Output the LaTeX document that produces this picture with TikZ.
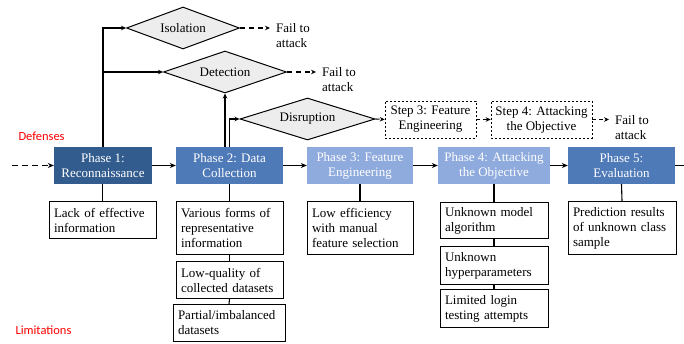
\documentclass[tikz,border=0pt]{standalone}
\usepackage{fontspec}
\setmainfont{Liberation Serif}
\newfontfamily\labelfont{Carlito}
\usetikzlibrary{arrows.meta,shapes.geometric,positioning}

\definecolor{phdark}{HTML}{335C8E}
\definecolor{phmid}{HTML}{4F7AB8}
\definecolor{phlight}{HTML}{8FAADC}
\definecolor{diafill}{HTML}{EDEDED}

\tikzset{
    phase/.style={minimum height=37pt, inner sep=0pt, text=white, align=center},
    limit/.style={draw, line width=1pt, anchor=north, align=left, inner xsep=5pt, inner ysep=3.5pt},
    defense/.style={diamond, draw, line width=1pt, fill=diafill, aspect=3, inner sep=1pt, minimum height=42pt},
    stepbox/.style={draw, line width=0.6pt, dash pattern=on 2pt off 2pt, align=center, minimum height=37pt, inner sep=0pt},
    failtext/.style={anchor=west, align=left, inner sep=0pt},
    flow/.style={-{Stealth[length=6pt,width=5pt]}, line width=1.6pt},
    branch/.style={-{Stealth[length=5pt,width=4.5pt]}, line width=1.1pt},
    failarrow/.style={-{Stealth[length=5pt,width=4.5pt]}, line width=1.1pt, dash pattern=on 5pt off 4pt, shorten >=6pt},
    steparrow/.style={-{Stealth[length=5pt,width=4.5pt]}, line width=1.1pt, dash pattern=on 4pt off 3pt}
}

\begin{document}
\begin{tikzpicture}[x=1pt, y=-1pt, font=\fontsize{13}{15}\selectfont]
        \useasboundingbox (0,0) rectangle (684,344);

        % Phases along the attack chain
        \node[phase, fill=phdark, minimum width=98pt] (ph1) at (103,165.5) {Phase 1:\\Reconnaissance};
        \node[phase, fill=phmid, minimum width=107pt] (ph2) at (229.5,165.5) {Phase 2: Data\\Collection};
        \node[phase, fill=phlight, minimum width=106pt] (ph3) at (360,165.5) {Phase 3: Feature\\Engineering};
        \node[phase, fill=phlight, minimum width=112pt] (ph4) at (494,165.5) {Phase 4: Attacking\\the Objective};
        \node[phase, fill=phmid, minimum width=107pt] (ph5) at (621.5,165.5) {Phase 5:\\Evaluation};
        \coordinate (start) at (12,165.5);
        \coordinate (finish) at (684,165.5);

        \draw[flow, dash pattern=on 6pt off 4pt] (start) -- (ph1);
        \draw[flow] (ph1) -- (ph2);
        \draw[flow] (ph2) -- (ph3);
        \draw[flow] (ph3) -- (ph4);
        \draw[flow] (ph4) -- (ph5);
        \draw[line width=1.6pt] (ph5) -- (finish);

        % Defenses
        \node[defense, minimum width=113pt] (iso) at (183,28) {Isolation};
        \node[defense, minimum width=123pt] (det) at (225,72) {Detection};
        \node[defense, minimum width=135pt] (dis) at (307.5,119) {Disruption};
        \node[failtext] (fail1) at (276,36) {Fail to\\attack};
        \node[failtext] (fail2) at (322,80) {Fail to\\attack};
        \node[failtext] (fail3) at (615,127.5) {Fail to\\attack};
        \node[stepbox, minimum width=91pt] (step3) at (430.5,119.5) {Step 3: Feature\\Engineering};
        \node[stepbox, minimum width=101pt] (step4) at (541.5,119.5) {Step 4: Attacking\\the Objective};
        \node[anchor=west, text=red, font=\labelfont\fontsize{12.5}{14}\selectfont] (deflabel) at (15,136) {Defenses};

        \draw[branch] (ph1.north) |- (iso.west);
        \draw[branch] (ph1.north |- det.west) -- (det.west);
        \draw[branch] (det.south |- ph2.north) -- (det.south);
        \draw[branch] (ph2.north) |- (dis.west);
        \draw[failarrow] (iso.east) -- (iso.east -| fail1.west);
        \draw[failarrow] (det.east) -- (det.east -| fail2.west);
        \draw[steparrow] (dis.east) -- (step3.west);
        \draw[steparrow] (step3.east) -- (step4.west);
        \draw[failarrow, dash pattern=on 4pt off 3pt] (step4.east) -- (step4.east -| fail3.west);

        % Limitations
        \node[limit, text width=97pt, minimum height=37pt] (lim1) at (102.5,201) {Lack of effective\\information};
        \node[limit, text width=97pt, minimum height=53pt] (lim2a) at (229.5,201) {Various forms of\\representative\\information};
        \node[limit, text width=97pt, minimum height=37pt] (lim2b) at (229.5,261) {Low-quality of\\collected datasets};
        \node[limit, text width=102pt, minimum height=37pt] (lim2c) at (229,304) {Partial/imbalanced\\datasets};
        \node[limit, text width=96pt, minimum height=53pt] (lim3) at (360,201) {Low efficiency\\with manual\\feature selection};
        \node[limit, text width=98pt, minimum height=36pt] (lim4a) at (494,202) {Unknown model\\algorithm};
        \node[limit, text width=98pt, minimum height=38pt] (lim4b) at (494,246) {Unknown\\hyperparameters};
        \node[limit, text width=98pt, minimum height=38pt] (lim4c) at (494,289) {Limited login\\testing attempts};
        \node[limit, text width=98pt, minimum height=53pt] (lim5) at (622,201) {Prediction results\\of unknown class\\sample};
        \node[anchor=west, text=red, font=\labelfont\fontsize{12.5}{14}\selectfont] (limlabel) at (12,330) {Limitations};

        \draw[line width=1.1pt] (ph1.south -| lim1.north) -- (lim1.north);
        \draw[line width=1.1pt] (ph2.south) -- (lim2a.north);
        \draw[line width=1.1pt] (lim2a.south) -- (lim2b.north);
        \draw[line width=1.1pt] (lim2b.south) -- (lim2c.north);
        \draw[line width=1.1pt] (ph3.south) -- (lim3.north);
        \draw[line width=1.1pt] (ph4.south) -- (lim4a.north);
        \draw[line width=1.1pt] (lim4a.south) -- (lim4b.north);
        \draw[line width=1.1pt] (lim4b.south) -- (lim4c.north);
        \draw[line width=1.1pt] (ph5.south) -- (lim5.north);

    \end{tikzpicture}
\end{document}
